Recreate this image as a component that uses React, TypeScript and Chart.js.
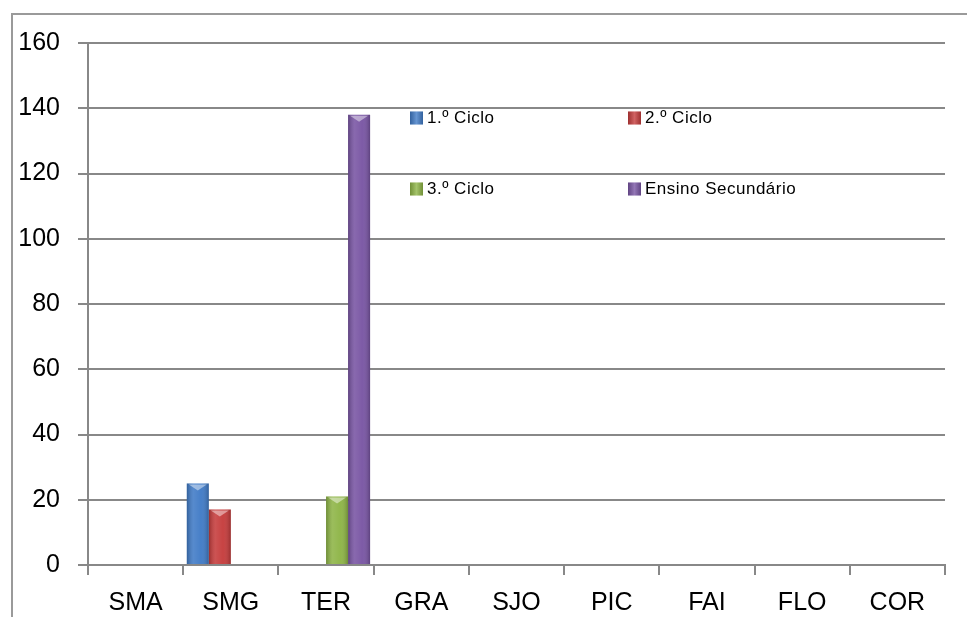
import React, { useEffect, useRef } from "react";
import { Chart, registerables } from "chart.js";
Chart.register(...registerables);

const categories = ["SMA", "SMG", "TER", "GRA", "SJO", "PIC", "FAI", "FLO", "COR"];
const seriesNames = ["1.º Ciclo", "2.º Ciclo", "3.º Ciclo", "Ensino Secundário"];
const ciclo1 = [0, 25, 0, 0, 0, 0, 0, 0, 0];
const ciclo2 = [0, 17, 0, 0, 0, 0, 0, 0, 0];
const ciclo3 = [0, 0, 21, 0, 0, 0, 0, 0, 0];
const secundario = [0, 0, 138, 0, 0, 0, 0, 0, 0];
const yMin = 0;
const yMax = 160;
const yStep = 20;

const seriesColors = ["#3F7AC6", "#C53B3B", "#8DB445", "#7854A3"];
const FONT = "'Liberation Sans', Arial, sans-serif";
const GRID = "#888888";

const framePlugin = {
  id: "frame",
  beforeDraw(chart: any) {
    const ctx = chart.ctx;
    ctx.save();
    ctx.strokeStyle = "#9a9a9a";
    ctx.lineWidth = 2;
    ctx.beginPath();
    ctx.moveTo(12, chart.height);
    ctx.lineTo(12, 14);
    ctx.lineTo(chart.width, 14);
    ctx.stroke();
    ctx.restore();
  },
};

const barShade = {
  id: "barShade",
  afterDatasetsDraw(chart: any) {
    const ctx = chart.ctx;
    chart.data.datasets.forEach((_ds: any, i: number) => {
      const meta = chart.getDatasetMeta(i);
      meta.data.forEach((bar: any) => {
        const { x, y, base, width } = bar.getProps(["x", "y", "base", "width"], true);
        const h = base - y;
        if (h < 1) return;
        const l = x - width / 2;
        const r = x + width / 2;
        const g = ctx.createLinearGradient(l, 0, r, 0);
        g.addColorStop(0, "rgba(0,0,0,0.22)");
        g.addColorStop(0.3, "rgba(255,255,255,0.12)");
        g.addColorStop(0.65, "rgba(255,255,255,0.04)");
        g.addColorStop(1, "rgba(0,0,0,0.22)");
        ctx.save();
        ctx.fillStyle = g;
        ctx.fillRect(l, y, width, h);
        ctx.fillStyle = "rgba(255,255,255,0.45)";
        ctx.beginPath();
        ctx.moveTo(l + 2, y + 1);
        ctx.lineTo(r - 2, y + 1);
        ctx.lineTo(x, y + 7);
        ctx.closePath();
        ctx.fill();
        ctx.restore();
      });
    });
  },
};

const legendPositions = [
  [410, 118],
  [628, 118],
  [410, 189],
  [628, 189],
];

const legendPlugin = {
  id: "customLegend",
  afterDraw(chart: any) {
    const ctx = chart.ctx;
    ctx.save();
    chart.data.datasets.forEach((ds: any, i: number) => {
      const [lx, ly] = legendPositions[i];
      const box = 13;
      ctx.fillStyle = ds.backgroundColor;
      ctx.fillRect(lx, ly - box / 2, box, box);
      const g = ctx.createLinearGradient(lx, 0, lx + box, 0);
      g.addColorStop(0, "rgba(0,0,0,0.2)");
      g.addColorStop(0.5, "rgba(255,255,255,0.2)");
      g.addColorStop(1, "rgba(0,0,0,0.2)");
      ctx.fillStyle = g;
      ctx.fillRect(lx, ly - box / 2, box, box);
      ctx.fillStyle = "#000";
      ctx.font = `17px ${FONT}`;
      (ctx as any).letterSpacing = "0.5px";
      ctx.textAlign = "left";
      ctx.textBaseline = "middle";
      ctx.fillText(ds.label, lx + 17, ly);
      (ctx as any).letterSpacing = "0px";
    });
    ctx.restore();
  },
};

export default function App() {
  const ref = useRef<HTMLCanvasElement | null>(null);
  useEffect(() => {
    if (!ref.current) return;
    const seriesData = [ciclo1, ciclo2, ciclo3, secundario];
    const chart = new Chart(ref.current, {
      type: "bar",
      data: {
        labels: categories,
        datasets: seriesNames.map((name, i) => ({
          label: name,
          data: seriesData[i],
          backgroundColor: seriesColors[i],
          borderWidth: 0,
          categoryPercentage: 0.925,
          barPercentage: 1.0,
        })),
      },
      options: {
        responsive: false,
        animation: false,
        layout: { padding: { left: 0, right: 22, top: 43, bottom: 0 } },
        plugins: {
          legend: { display: false },
          tooltip: { enabled: false },
          title: { display: false },
        },
        scales: {
          x: {
            afterFit: (s: any) => {
              s.height = 52;
            },
            grid: {
              display: true,
              drawOnChartArea: false,
              drawTicks: true,
              tickLength: 10,
              color: GRID,
              lineWidth: 2,
              offset: true,
            },
            border: { display: true, color: GRID, width: 2 },
            ticks: {
              color: "#000",
              font: { family: FONT, size: 25 },
              padding: 13,
              maxRotation: 0,
            },
          },
          y: {
            min: yMin,
            max: yMax,
            afterFit: (s: any) => {
              s.width = 88;
            },
            grid: {
              color: GRID,
              lineWidth: 2,
              drawTicks: true,
              tickLength: 10,
            },
            border: { display: true, color: GRID, width: 2 },
            ticks: {
              stepSize: yStep,
              color: "#000",
              font: { family: FONT, size: 25 },
              padding: 18,
            },
          },
        },
      },
      plugins: [framePlugin, barShade, legendPlugin],
    });
    return () => chart.destroy();
  }, []);
  return (
    <div style={{ position: "fixed", left: 0, top: 0, width: 967, height: 617, background: "#fff" }}>
      <canvas ref={ref} width={967} height={617} style={{ display: "block" }} />
    </div>
  );
}
